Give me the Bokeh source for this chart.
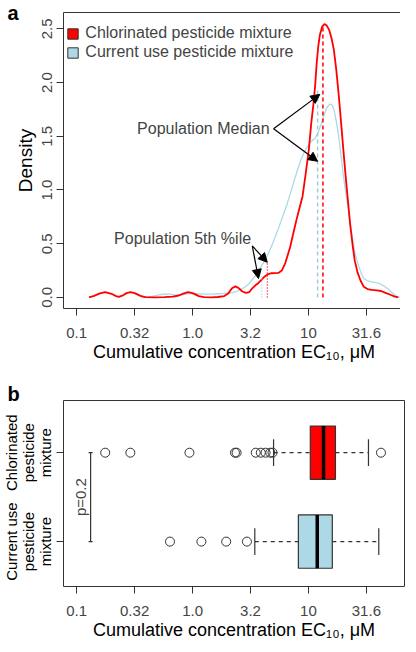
import math
from bokeh.plotting import figure
from bokeh.models import (ColumnDataSource, FixedTicker, Label, Legend, LegendItem,
                          Arrow, NormalHead, Range1d, LinearAxis)
from bokeh.layouts import column
from bokeh.embed import file_html
from bokeh.resources import INLINE

FONT = "Liberation Sans"

# ---------------- data (x values are log10 of EC10 in uM) ----------------
x_tick_values = [-1, -0.5, 0, 0.5, 1, 1.5]
x_tick_labels = ["0.1", "0.32", "1.0", "3.2", "10", "31.6"]
y_tick_values = [0, 0.5, 1.0, 1.5, 2.0, 2.5]
y_tick_labels = ["0.0", "0.5", "1.0", "1.5", "2.0", "2.5"]

chlor_log_ec10 = [-0.894, -0.85, -0.80, -0.754, -0.70, -0.66, -0.637, -0.60, -0.57, -0.537,
                  -0.50, -0.45, -0.407, -0.33, -0.244, -0.17, -0.12, -0.08, -0.04, 0.00,
                  0.054, 0.10, 0.163, 0.22, 0.271, 0.31, 0.34, 0.37, 0.40, 0.43,
                  0.461, 0.49, 0.515, 0.545, 0.569, 0.60, 0.623, 0.65, 0.677, 0.71,
                  0.74, 0.77, 0.80, 0.84, 0.868, 0.894, 0.92, 0.949, 0.976, 1.003,
                  1.024, 1.043, 1.057, 1.071, 1.085, 1.098, 1.118, 1.138, 1.158, 1.179,
                  1.20, 1.22, 1.24, 1.26, 1.28, 1.30, 1.32, 1.341, 1.36, 1.382,
                  1.40, 1.423, 1.45, 1.477, 1.51, 1.545, 1.59, 1.626, 1.66, 1.707,
                  1.74, 1.775]
chlor_density = [0.000, 0.014, 0.038, 0.050, 0.034, 0.012, 0.006, 0.020, 0.040, 0.050,
                 0.040, 0.015, 0.002, 0.000, 0.003, 0.008, 0.018, 0.036, 0.050, 0.040,
                 0.012, 0.003, 0.000, 0.004, 0.012, 0.040, 0.085, 0.103, 0.085, 0.055,
                 0.042, 0.050, 0.085, 0.115, 0.135, 0.170, 0.195, 0.215, 0.225, 0.226,
                 0.228, 0.250, 0.320, 0.460, 0.590, 0.710, 0.820, 0.940, 1.150, 1.370,
                 1.620, 1.800, 1.960, 2.180, 2.340, 2.440, 2.520, 2.545, 2.530, 2.490,
                 2.410, 2.300, 2.120, 1.900, 1.650, 1.390, 1.140, 0.900, 0.680, 0.480,
                 0.340, 0.236, 0.155, 0.100, 0.078, 0.070, 0.066, 0.060, 0.045, 0.025,
                 0.010, 0.000]

current_log_ec10 = [-0.44, -0.40, -0.35, -0.30, -0.244, -0.19, -0.136, -0.08, -0.027, 0.03,
                    0.108, 0.19, 0.271, 0.33, 0.38, 0.407, 0.45, 0.488, 0.53, 0.569,
                    0.61, 0.65, 0.69, 0.732, 0.77, 0.813, 0.85, 0.88, 0.91, 0.935,
                    0.962, 0.989, 1.02, 1.057, 1.085, 1.111, 1.135, 1.16, 1.187, 1.205,
                    1.22, 1.24, 1.26, 1.28, 1.30, 1.32, 1.341, 1.36, 1.382, 1.40,
                    1.423, 1.45, 1.477, 1.51, 1.545, 1.58, 1.612, 1.645, 1.68, 1.72,
                    1.76, 1.789]
current_density = [0.000, 0.002, 0.010, 0.022, 0.032, 0.030, 0.018, 0.026, 0.038, 0.036,
                   0.030, 0.032, 0.038, 0.043, 0.055, 0.070, 0.095, 0.130, 0.185, 0.250,
                   0.320, 0.400, 0.500, 0.615, 0.730, 0.860, 0.990, 1.100, 1.200, 1.280,
                   1.350, 1.400, 1.450, 1.480, 1.540, 1.620, 1.700, 1.770, 1.800, 1.790,
                   1.750, 1.640, 1.510, 1.330, 1.145, 0.990, 0.840, 0.690, 0.540, 0.420,
                   0.327, 0.240, 0.176, 0.155, 0.145, 0.137, 0.130, 0.110, 0.085, 0.045,
                   0.010, 0.000]

# population medians and 5th percentiles (log10 EC10) with the heights of their marker lines
median_log = {"chlor": 1.125, "current": 1.079}
median_height = {"chlor": 2.52, "current": 1.93}
p5_log = {"chlor": 0.645, "current": 0.597}
p5_height = {"chlor": 0.33, "current": 0.20}

# box plot (panel b)
box_pos = [1, 2]
box_label_line1 = ["Current use", "Chlorinated"]
box_label_line2 = ["pesticide", "pesticide"]
box_label_line3 = ["mixture", "mixture"]
box_q1 = [0.913, 1.016]
box_median = [1.076, 1.130]
box_q3 = [1.206, 1.233]
whisker_low = [0.537, 0.699]
whisker_high = [1.607, 1.518]
outliers_current = [-0.195, 0.076, 0.290, 0.469]
outliers_chlor = [-0.754, -0.537, -0.027, 0.366, 0.380, 0.545, 0.589, 0.630, 0.671, 0.690, 1.626]
pvalue_text = "p=0.2"
pvalue_bracket_log = -0.88

RED = "#FF0000"
BLUE = "#ADD8E6"
DARK = "#333333"
TICKC = "#444444"

X_RANGE = (-1.114, 1.829)
YA_RANGE = (-0.103, 2.652)
YB_RANGE = (0.495, 2.587)
FRAME_W = 341
FRAME_HA = 296
FRAME_HB = 186
BORDER_L = 58
PX_X = FRAME_W / (X_RANGE[1] - X_RANGE[0])


def style_axes(p):
    for ax in (p.xaxis[0], p.yaxis[0]):
        ax.axis_line_color = None
        ax.major_tick_out = 7
        ax.major_tick_in = 0
        ax.major_tick_line_color = DARK
        ax.minor_tick_line_color = None
        ax.major_label_text_font = FONT
        ax.major_label_text_font_size = "15px"
        ax.major_label_text_color = TICKC
        ax.axis_label_text_font = FONT
        ax.axis_label_text_font_style = "normal"
        ax.axis_label_text_color = "black"
    p.xaxis[0].ticker = FixedTicker(ticks=x_tick_values)
    p.xaxis[0].major_label_overrides = dict(zip(x_tick_values, x_tick_labels))
    p.xaxis[0].axis_label = "Cumulative concentration EC\u2081\u2080, \u03bcM"
    p.xaxis[0].axis_label_text_font_size = "18px"
    p.xaxis[0].major_label_standoff = 12
    p.xaxis[0].axis_label_standoff = 1
    p.xgrid.visible = False
    p.ygrid.visible = False
    p.outline_line_color = DARK
    p.outline_line_width = 1
    p.background_fill_color = "white"
    p.border_fill_color = "white"


def panel_letter(p, letter, standoff):
    t = p.title
    t.text = letter
    t.align = "left"
    t.offset = -(BORDER_L - 2)
    t.standoff = standoff
    t.vertical_align = "bottom"
    t.text_font = FONT
    t.text_font_size = "20px"
    t.text_font_style = "bold"
    t.text_color = "black"


# ---------------- panel a ----------------
pa = figure(frame_width=FRAME_W, frame_height=FRAME_HA, x_range=Range1d(*X_RANGE),
            y_range=Range1d(*YA_RANGE), output_backend="svg", toolbar_location=None,
            min_border_left=BORDER_L, min_border_right=1, min_border_top=12,
            min_border_bottom=53)
style_axes(pa)
pa.yaxis[0].ticker = FixedTicker(ticks=y_tick_values)
pa.yaxis[0].major_label_overrides = dict(zip(y_tick_values, y_tick_labels))
pa.yaxis[0].major_label_orientation = "parallel"
pa.yaxis[0].major_label_standoff = 4
pa.yaxis[0].axis_label = "Density"
pa.yaxis[0].axis_label_text_font_size = "19px"
pa.yaxis[0].axis_label_standoff = 4

pa.line(current_log_ec10, current_density, line_color=BLUE, line_width=1.3)
pa.line(chlor_log_ec10, chlor_density, line_color=RED, line_width=1.8)

for key, col in (("current", "#9CCFD8"), ("chlor", RED)):
    pa.segment(x0=[median_log[key]], y0=[0], x1=[median_log[key]], y1=[median_height[key]],
               line_color=col, line_dash="4 3", line_width=1.5)
    pa.segment(x0=[p5_log[key]], y0=[0], x1=[p5_log[key]], y1=[p5_height[key]],
               line_color=col, line_dash="1 2", line_width=1.3)

# zero-area quads that only serve as legend glyphs
lr = pa.quad(left=[median_log["chlor"]], right=[median_log["chlor"]], bottom=[0], top=[0],
             fill_color=RED, line_color=DARK, line_width=1)
lb = pa.quad(left=[median_log["current"]], right=[median_log["current"]], bottom=[0], top=[0],
             fill_color=BLUE, line_color=DARK, line_width=1)
legend = Legend(items=[LegendItem(label="Chlorinated pesticide mixture", renderers=[lr], index=0),
                       LegendItem(label="Current use pesticide mixture", renderers=[lb], index=0)],
                location="top_left", border_line_alpha=0, background_fill_alpha=0,
                label_text_font=FONT, label_text_font_size="16px", glyph_width=13,
                glyph_height=13, label_standoff=6, spacing=1, padding=4, margin=8,
                label_height=17)
pa.add_layout(legend)

# annotations
med_text_x, med_text_y = 0.665, 1.57
pa.add_layout(Label(x=med_text_x, y=med_text_y, text="Population Median", text_font=FONT,
                    text_font_size="16px", text_align="right", text_baseline="middle"))
for xe, ye in ((1.098, 1.89), (1.079, 1.267)):
    pa.add_layout(Arrow(end=NormalHead(size=9, fill_color="black", line_color="black"),
                        x_start=0.699, y_start=med_text_y, x_end=xe, y_end=ye,
                        line_width=1.2, line_color="black"))
pa.add_layout(Label(x=0.505, y=0.55, text="Population 5th %ile", text_font=FONT,
                    text_font_size="16px", text_align="right", text_baseline="middle"))
for xe, ye in ((0.569, 0.176), (0.645, 0.327)):
    pa.add_layout(Arrow(end=NormalHead(size=9, fill_color="black", line_color="black"),
                        x_start=0.515, y_start=0.48, x_end=xe, y_end=ye,
                        line_width=1.2, line_color="black"))
panel_letter(pa, "a", -22)

# ---------------- panel b ----------------
pb = figure(frame_width=FRAME_W, frame_height=FRAME_HB, x_range=Range1d(*X_RANGE),
            y_range=Range1d(*YB_RANGE), output_backend="svg", toolbar_location=None,
            min_border_left=BORDER_L, min_border_right=1, min_border_top=36,
            min_border_bottom=53)
style_axes(pb)
# group labels: three stacked left axes, one text line each
pb.yaxis[0].ticker = FixedTicker(ticks=box_pos)
pb.yaxis[0].major_label_overrides = dict(zip(box_pos, box_label_line3))
pb.yaxis[0].major_label_orientation = "parallel"
pb.yaxis[0].major_label_standoff = 2
pb.yaxis[0].major_label_text_color = "black"
for lines in (box_label_line2, box_label_line1):
    ax = LinearAxis(ticker=FixedTicker(ticks=box_pos),
                    major_label_overrides=dict(zip(box_pos, lines)),
                    major_tick_out=0, major_tick_in=0, major_tick_line_color=None,
                    minor_tick_line_color=None, axis_line_color=None,
                    major_label_orientation="parallel", major_label_standoff=-3,
                    major_label_text_font=FONT, major_label_text_font_size="15px",
                    major_label_text_color="black")
    pb.add_layout(ax, "left")

src = ColumnDataSource(dict(y=box_pos, q1=box_q1, q3=box_q3, med=box_median,
                            wl=whisker_low, wh=whisker_high,
                            color=[BLUE, RED]))
cap = 0.15
half = 0.3
src.data["ylo"] = [v - cap for v in box_pos]
src.data["yhi"] = [v + cap for v in box_pos]
src.data["blo"] = [v - half for v in box_pos]
src.data["bhi"] = [v + half for v in box_pos]
# whiskers
pb.segment(x0="wl", x1="q1", y0="y", y1="y", source=src, line_color=DARK, line_dash="4 4",
           line_width=1.2)
pb.segment(x0="q3", x1="wh", y0="y", y1="y", source=src, line_color=DARK, line_dash="4 4",
           line_width=1.2)
pb.segment(x0="wl", x1="wl", y0="ylo", y1="yhi", source=src, line_color=DARK, line_width=1.2)
pb.segment(x0="wh", x1="wh", y0="ylo", y1="yhi", source=src, line_color=DARK, line_width=1.2)
# boxes
pb.hbar(y="y", left="q1", right="q3", height=2 * half, source=src, fill_color="color",
        line_color=DARK, line_width=1.2)
pb.segment(x0="med", x1="med", y0="blo", y1="bhi", source=src, line_color="black",
           line_width=3.5)
# outliers
pb.scatter(outliers_current, [box_pos[0]] * len(outliers_current), marker="circle", size=9,
           fill_color=None, line_color=DARK, line_width=1)
pb.scatter(outliers_chlor, [box_pos[1]] * len(outliers_chlor), marker="circle", size=9,
           fill_color=None, line_color=DARK, line_width=1)
# p-value bracket
pb.segment(x0=[pvalue_bracket_log], x1=[pvalue_bracket_log], y0=[box_pos[0]], y1=[box_pos[1]],
           line_color=DARK, line_width=1.2)
pb.scatter([pvalue_bracket_log] * 2, box_pos, marker="dash", size=4, line_color=DARK,
           line_width=1.2)
pb.add_layout(Label(x=pvalue_bracket_log - 10 / PX_X, y=sum(box_pos) / 2, text=pvalue_text,
                    text_font=FONT, text_font_size="15px", angle=math.pi / 2,
                    text_align="center", text_baseline="middle"))
panel_letter(pb, "b", -8)

layout = column(pa, pb, spacing=0)
open("out.html", "w").write(file_html(layout, INLINE))
